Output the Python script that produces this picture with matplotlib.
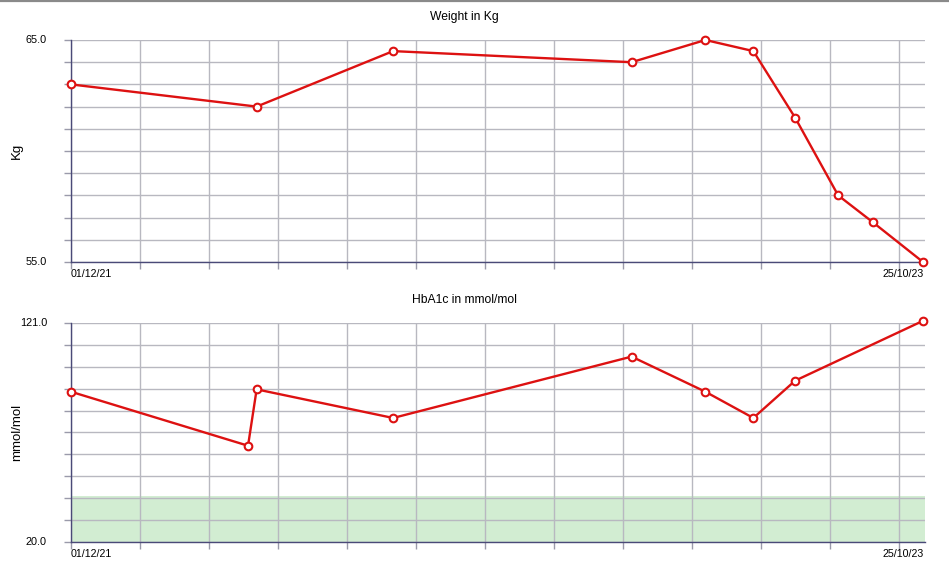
import datetime as dt
import matplotlib
matplotlib.use('Agg')
import matplotlib.pyplot as plt
import numpy as np
from matplotlib.lines import Line2D

plt.rcParams['font.family'] = ['Liberation Sans', 'DejaVu Sans']

# data
weight_dates = ['2021-12-01', '2022-05-01', '2022-08-20', '2023-03-02', '2023-05-01',
                '2023-06-09', '2023-07-13', '2023-08-17', '2023-09-14', '2023-10-25']
weight_kg = [63.0, 62.0, 64.5, 64.0, 65.0, 64.5, 61.5, 58.0, 56.8, 55.0]

hba1c_dates = ['2021-12-01', '2022-04-24', '2022-05-01', '2022-08-20', '2023-03-02',
               '2023-05-01', '2023-06-09', '2023-07-13', '2023-10-25']
hba1c_val = [89.3, 64.4, 90.4, 77.2, 105.5, 89.3, 77.2, 94.4, 122.0]

target_band = (20.0, 41.0)
first_label = '01/12/21'
last_label = '25/10/23'

start = dt.date(2021, 12, 1)
def days(ds):
    return [(dt.date.fromisoformat(d) - start).days for d in ds]

wx = days(weight_dates)
hx = days(hba1c_dates)
span = max(wx)

W, H = 949, 577
fig = plt.figure(figsize=(W/100, H/100), dpi=100)
fig.add_artist(Line2D([0, 1], [1-1/H, 1-1/H], color='#8a8a8a', lw=1.6))

def make_axes(top, bottom, ymin, ymax, x, y, title, ylabel, band=None):
    left, right = 71, 925
    ax = fig.add_axes([left/W, 1-bottom/H, (right-left)/W, (bottom-top)/H])
    xmax = span*(right-left)/(923-left)
    ax.set_xlim(0, xmax)
    ax.set_ylim(ymin, ymax)
    step = 69/(923-left)*span
    ax.set_xticks(np.arange(13)*step)
    ax.set_xticklabels([])
    ax.set_yticks(np.linspace(ymin, ymax, 11))
    ax.set_yticklabels([])
    ax.grid(True, color='#b8b8c0', lw=1)
    ax.set_axisbelow(True)
    for s in ['top', 'right']:
        ax.spines[s].set_visible(False)
    for s in ['left', 'bottom']:
        ax.spines[s].set_color('#4a4a78')
        ax.spines[s].set_linewidth(1)
    ax.tick_params(length=5, color='#9a9aaa', width=1)
    if band:
        ax.axhspan(band[0], band[1], color='#d2edd2', zorder=0.5, lw=0)
    ax.plot(x, y, color='#dd1111', lw=1.7, marker='o', ms=5.5, mfc='white',
            mec='#dd1111', mew=1.5, clip_on=False, zorder=3)
    ax.annotate(f'{ymax:.1f}', (0, 1), xycoords='axes fraction', xytext=(-24, 0),
                textcoords='offset pixels', ha='right', va='center', fontsize=7.8)
    ax.annotate(f'{ymin:.1f}', (0, 0), xycoords='axes fraction', xytext=(-24, 0),
                textcoords='offset pixels', ha='right', va='center', fontsize=7.8)
    ax.annotate(first_label, (0, 0), xycoords='axes fraction', xytext=(0, -12),
                textcoords='offset pixels', ha='left', va='center', fontsize=7.7)
    ax.annotate(last_label, (1, 0), xycoords='axes fraction', xytext=(-1, -12),
                textcoords='offset pixels', ha='right', va='center', fontsize=7.7)
    fig.text(464/W, 1-(top-23)/H, title, ha='center', va='center', fontsize=8.7)
    fig.text(17/W, 1-(top+bottom)/2/H, ylabel, ha='center', va='center', rotation=90, fontsize=9.5)
    return ax

make_axes(40, 262, 55.0, 65.0, wx, weight_kg, 'Weight in Kg', 'Kg')
make_axes(323, 542, 20.0, 121.0, hx, hba1c_val, 'HbA1c in mmol/mol', 'mmol/mol', target_band)

fig.savefig('out.png', dpi=100)
